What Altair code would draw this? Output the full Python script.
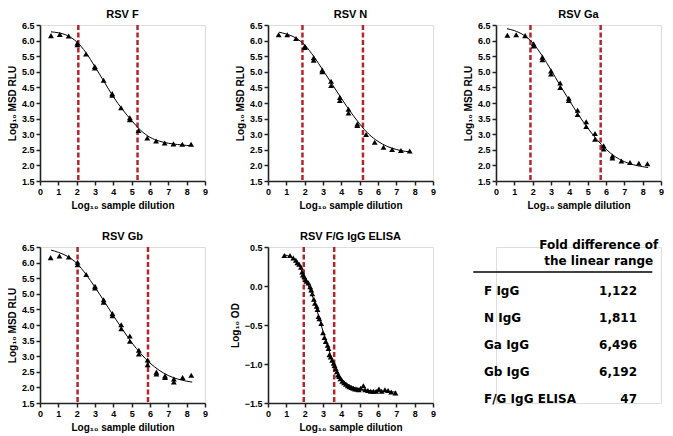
import altair as alt
import pandas as pd

# ---------------- data ----------------
# RSV F
f_x = [0.6, 1.08, 1.56, 2.04, 2.04, 2.51, 2.99, 2.99, 3.47, 3.94, 3.94, 4.42, 4.9, 4.9, 5.37, 5.85, 6.33, 6.8, 7.28, 7.76, 8.24]
f_y = [6.16, 6.2, 6.15, 5.92, 5.87, 5.57, 5.17, 5.12, 4.73, 4.3, 4.25, 3.85, 3.53, 3.46, 3.12, 2.88, 2.78, 2.72, 2.69, 2.68, 2.68]
f_cx = [0.6, 1.0, 1.5, 2.0, 2.5, 3.0, 3.5, 4.0, 4.5, 5.0, 5.5, 6.0, 6.5, 7.0, 7.5, 8.0, 8.3]
f_cy = [6.28, 6.25, 6.16, 5.96, 5.62, 5.16, 4.68, 4.2, 3.79, 3.44, 3.12, 2.9, 2.78, 2.71, 2.67, 2.64, 2.63]
f_lines = [2.09, 5.32]

# RSV N
n_x = [0.58, 1.05, 1.53, 2.01, 2.01, 2.49, 2.49, 2.96, 2.96, 3.44, 3.44, 3.92, 3.92, 4.39, 4.39, 4.87, 4.87, 5.35, 5.82, 6.3, 6.77, 7.25, 7.73]
n_y = [6.19, 6.19, 6.07, 5.82, 5.78, 5.45, 5.37, 5.06, 5.0, 4.7, 4.56, 4.18, 4.08, 3.8, 3.68, 3.33, 3.28, 2.99, 2.74, 2.58, 2.51, 2.48, 2.46]
n_cx = [0.6, 1.0, 1.5, 2.0, 2.5, 3.0, 3.5, 4.0, 4.5, 5.0, 5.5, 6.0, 6.5, 7.0, 7.5, 7.8]
n_cy = [6.27, 6.21, 6.09, 5.86, 5.49, 5.05, 4.6, 4.15, 3.72, 3.33, 3.0, 2.77, 2.61, 2.51, 2.45, 2.43]
n_lines = [1.88, 5.18]

# RSV Ga
ga_x = [0.62, 1.1, 1.59, 2.05, 2.05, 2.53, 2.53, 3.0, 3.0, 3.5, 3.5, 3.97, 3.97, 4.45, 4.45, 4.92, 4.92, 5.4, 5.4, 5.87, 5.87, 6.35, 6.35, 6.84, 7.31, 7.79, 8.26]
ga_y = [6.17, 6.19, 6.16, 5.9, 5.83, 5.47, 5.39, 5.03, 4.93, 4.64, 4.5, 4.15, 4.08, 3.77, 3.63, 3.4, 3.25, 3.02, 2.84, 2.63, 2.53, 2.3, 2.24, 2.14, 2.09, 2.07, 2.05]
ga_cx = [0.6, 1.0, 1.5, 2.0, 2.5, 3.0, 3.5, 4.0, 4.5, 5.0, 5.5, 6.0, 6.5, 7.0, 7.5, 8.0, 8.3]
ga_cy = [6.38, 6.32, 6.18, 5.93, 5.53, 5.06, 4.56, 4.08, 3.62, 3.2, 2.83, 2.52, 2.28, 2.12, 2.02, 1.96, 1.93]
ga_lines = [1.88, 5.71]

# RSV Gb
gb_x = [0.58, 1.06, 1.57, 2.05, 2.05, 2.52, 3.0, 3.0, 3.47, 3.47, 3.95, 3.95, 4.43, 4.43, 4.9, 4.9, 5.39, 5.39, 5.87, 5.87, 6.35, 6.35, 6.82, 6.82, 7.3, 7.3, 7.78, 8.25]
gb_y = [6.16, 6.21, 6.18, 6.01, 5.93, 5.62, 5.24, 5.19, 4.81, 4.73, 4.37, 4.3, 4.01, 3.88, 3.65, 3.48, 3.19, 3.07, 2.88, 2.73, 2.49, 2.43, 2.37, 2.32, 2.27, 2.17, 2.32, 2.39]
gb_cx = [0.6, 1.0, 1.5, 2.0, 2.5, 3.0, 3.5, 4.0, 4.5, 5.0, 5.5, 6.0, 6.5, 7.0, 7.5, 8.0, 8.3]
gb_cy = [6.4, 6.33, 6.2, 5.98, 5.63, 5.21, 4.76, 4.3, 3.86, 3.44, 3.08, 2.78, 2.55, 2.38, 2.27, 2.2, 2.17]
gb_lines = [2.05, 5.89]

# RSV F/G IgG ELISA
e_x = [0.89, 1.2, 1.38, 1.52, 1.6, 1.7, 1.8, 1.86, 1.9, 1.98, 2.05, 2.1, 2.2, 2.3, 2.36, 2.42, 2.5, 2.56,
       2.65, 2.7, 2.75, 2.8, 2.9, 3.0, 3.08, 3.15, 3.25, 3.3, 3.35, 3.42, 3.5, 3.58, 3.63, 3.7, 3.76, 3.82,
       3.88, 3.95, 4.05, 4.15, 4.25, 4.35, 4.45, 4.55, 4.65, 4.75, 4.85, 4.95, 5.05, 5.2, 5.3, 5.45, 5.6,
       5.75, 5.9, 6.05, 6.2, 6.38, 6.55, 6.72, 6.95]
e_y = [0.39, 0.39, 0.36, 0.33, 0.3, 0.28, 0.24, 0.18, 0.14, 0.12, 0.08, 0.06, 0.04, -0.01, -0.05, -0.1, -0.17, -0.22,
       -0.26, -0.3, -0.39, -0.42, -0.48, -0.6, -0.66, -0.71, -0.76, -0.8, -0.88, -0.91, -0.95, -0.99, -1.02, -1.06, -1.1, -1.14,
       -1.16, -1.19, -1.22, -1.24, -1.26, -1.28, -1.29, -1.3, -1.31, -1.32, -1.32, -1.33, -1.31, -1.28, -1.33, -1.34, -1.35,
       -1.35, -1.35, -1.32, -1.35, -1.33, -1.34, -1.36, -1.37]
e_cx = [0.9, 1.5, 2.0, 2.5, 3.0, 3.5, 4.0, 4.5, 5.0, 5.5, 6.0, 6.5, 7.0]
e_cy = [0.4, 0.33, 0.11, -0.18, -0.58, -0.94, -1.18, -1.28, -1.32, -1.34, -1.35, -1.355, -1.36]
e_lines = [1.95, 3.61]

# Table
tbl_header = ["Fold difference of", "the linear range"]
tbl_labels = ["F IgG", "N IgG", "Ga IgG", "Gb IgG", "F/G IgG ELISA"]
tbl_values = ["1,122", "1,811", "6,496", "6,192", "47"]

# ---------------- styling ----------------
W, H = 165, 156
FONT = "Liberation Sans, Arial, sans-serif"
RED = "#b3262c"


def make_axis(title, values, fmt):
    return alt.Axis(
        title=title, values=values, format=fmt, grid=False,
        domainColor="#222222", domainWidth=1.6, tickColor="#222222", tickWidth=1.5, tickSize=4,
        labelFont=FONT, labelFontWeight="bold", labelFontSize=9, labelColor="black", labelPadding=2,
        labelFlush=False, labelOverlap=False,
        titleFont=FONT, titleFontWeight="bold", titleFontSize=10, titleColor="black", titlePadding=4,
    )


def panel(title, px, py, cx, cy, vlines, ydom, yticks, ytitle):
    pts = pd.DataFrame({"x": px, "y": py})
    cur = pd.DataFrame({"x": cx, "y": cy})
    vl = pd.DataFrame({"x": vlines})
    xs = alt.Scale(domain=[0, 9], nice=False, zero=False)
    ys = alt.Scale(domain=ydom, nice=False, zero=False)
    xa = make_axis("Log₁₀ sample dilution", list(range(10)), "d")
    ya = make_axis(ytitle, yticks, ".1f")
    rules = alt.Chart(vl).mark_rule(color=RED, strokeWidth=2.5, strokeDash=[5, 2.5]).encode(
        x=alt.X("x:Q", scale=xs, axis=xa))
    line = alt.Chart(cur).mark_line(color="black", strokeWidth=1, interpolate="monotone").encode(
        x=alt.X("x:Q", scale=xs, axis=xa), y=alt.Y("y:Q", scale=ys, axis=ya))
    points = alt.Chart(pts).mark_point(shape="triangle-up", filled=True, color="black", opacity=1, size=34).encode(
        x=alt.X("x:Q", scale=xs, axis=xa), y=alt.Y("y:Q", scale=ys, axis=ya))
    return alt.layer(rules, line, points).properties(
        width=W, height=H,
        title=alt.TitleParams(title, font=FONT, fontSize=11, fontWeight="bold", color="black", offset=1, anchor="middle"))


msd_ticks = [1.5, 2.0, 2.5, 3.0, 3.5, 4.0, 4.5, 5.0, 5.5, 6.0, 6.5]
pF = panel("RSV F", f_x, f_y, f_cx, f_cy, f_lines, [1.5, 6.5], msd_ticks, "Log₁₀ MSD RLU")
pN = panel("RSV N", n_x, n_y, n_cx, n_cy, n_lines, [1.5, 6.5], msd_ticks, "Log₁₀ MSD RLU")
pGa = panel("RSV Ga", ga_x, ga_y, ga_cx, ga_cy, ga_lines, [1.5, 6.5], msd_ticks, "Log₁₀ MSD RLU")
pGb = panel("RSV Gb", gb_x, gb_y, gb_cx, gb_cy, gb_lines, [1.5, 6.5], msd_ticks, "Log₁₀ MSD RLU")
pE = panel("RSV F/G IgG ELISA", e_x, e_y, e_cx, e_cy, e_lines, [-1.5, 0.5], [-1.5, -1.0, -0.5, 0.0, 0.5], "Log₁₀ OD")

# ---------------- table panel ----------------
tx = alt.Scale(domain=[0, 1], range=[-12, 141])
ty = alt.Scale(domain=[-1.7, 4], range=[-2, 152])
TFONT = "DejaVu Sans, Verdana, sans-serif"

hdr = pd.DataFrame({"c": [0.75, 0.75], "r": [-1.7, -1.11], "t": tbl_header})
lab = pd.DataFrame({"c": [0] * len(tbl_labels), "r": list(range(len(tbl_labels))), "t": tbl_labels})
val = pd.DataFrame({"c": [1] * len(tbl_values), "r": list(range(len(tbl_values))), "t": tbl_values})
rl = pd.DataFrame({"c": [-0.07], "c2": [1.1], "r": [-0.70]})

enc = dict(x=alt.X("c:Q", scale=tx, axis=None), y=alt.Y("r:Q", scale=ty, axis=None), text="t:N")
t_hdr = alt.Chart(hdr).mark_text(align="center", baseline="middle", font=TFONT, fontWeight="bold",
                                 fontSize=12, color="black").encode(**enc)
t_lab = alt.Chart(lab).mark_text(align="left", baseline="middle", font=TFONT, fontWeight="bold",
                                 fontSize=12, color="black").encode(**enc)
t_val = alt.Chart(val).mark_text(align="right", baseline="middle", font=TFONT, fontWeight="bold",
                                 fontSize=12, color="black").encode(**enc)
t_rule = alt.Chart(rl).mark_rule(color="black", strokeWidth=1.5).encode(
    x=alt.X("c:Q", scale=tx, axis=None), x2="c2:Q", y=alt.Y("r:Q", scale=ty, axis=None))
table = alt.layer(t_rule, t_hdr, t_lab, t_val).properties(width=W, height=H)

chart = alt.concat(pF, pN, pGa, pGb, pE, table, columns=3, spacing={"row": 66, "column": 63},
                   bounds="flush").properties(
    padding={"left": -2, "top": 0, "right": 0, "bottom": 0}
).configure_view(strokeWidth=0).configure(background="white")

chart.save("out.html", embed_options={"renderer": "svg", "actions": False})
